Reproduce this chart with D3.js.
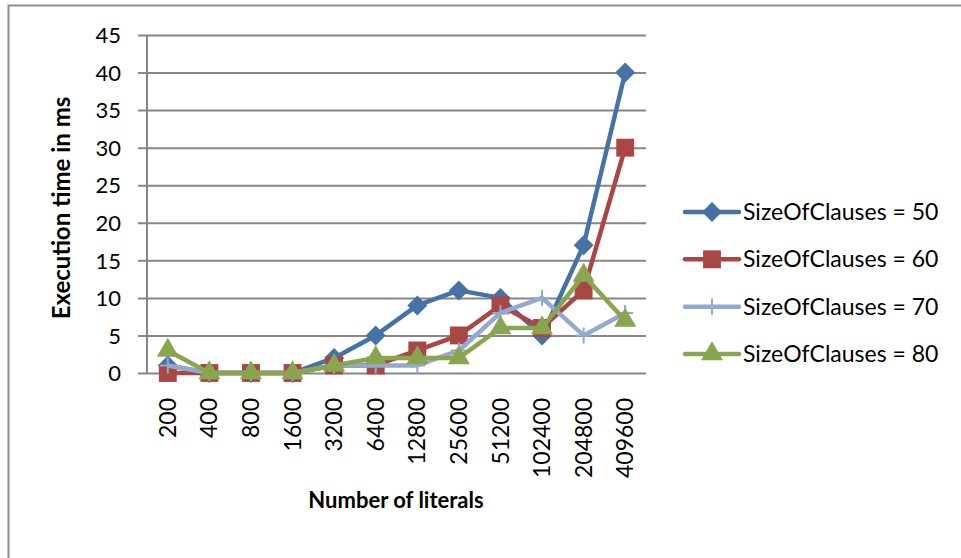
<!DOCTYPE html>
<html>
<head>
  <meta charset="utf-8">
  <script src="https://cdn.jsdelivr.net/npm/d3@7"></script>
  <style>
    body { margin: 0; background: #fff; }
    text { font-family: Lato, "Open Sans", sans-serif; fill: #000; }
  </style>
</head>
<body>
  <script>
    // categories on the x axis
    var literals = ["200", "400", "800", "1600", "3200", "6400", "12800", "25600", "51200", "102400", "204800", "409600"];
    var yTicks = [0, 5, 10, 15, 20, 25, 30, 35, 40, 45];

    // execution time (ms) per series
    var size50 = [1, 0, 0, 0, 2, 5, 9, 11, 10, 5, 17, 40];
    var size60 = [0, 0, 0, 0, 1, 1, 3, 5, 9, 6, 11, 30];
    var size70 = [1, 0, 0, 0, 1, 1, 1, 3, 8, 10, 5, 8];
    var size80 = [3, 0, 0, 0, 1, 2, 2, 2, 6, 6, 13, 7];

    var seriesNames = ["SizeOfClauses = 50", "SizeOfClauses = 60", "SizeOfClauses = 70", "SizeOfClauses = 80"];

    var series = [
      { name: seriesNames[0], values: size50, color: "#4572A7", marker: "diamond" },
      { name: seriesNames[1], values: size60, color: "#AA4643", marker: "square" },
      { name: seriesNames[2], values: size70, color: "#93A9D0", marker: "cross" },
      { name: seriesNames[3], values: size80, color: "#89A54E", marker: "triangle" }
    ];

    var width = 961, height = 558;
    var plotLeft = 147, plotRight = 646, plotTop = 35, plotBottom = 373;

    var svg = d3.select("body").append("svg")
      .attr("width", width)
      .attr("height", height);

    svg.append("rect")
      .attr("width", width).attr("height", height)
      .attr("fill", "#fff");

    // outer chart border (runs off the right and bottom)
    svg.append("rect")
      .attr("x", 8.5).attr("y", 5.5)
      .attr("width", 980).attr("height", 580)
      .attr("fill", "none")
      .attr("stroke", "#8e8e8e")
      .attr("stroke-width", 2);

    var x = d3.scaleBand().domain(literals).range([plotLeft, plotRight]);
    var y = d3.scaleLinear().domain([0, 45]).range([plotBottom, plotTop]);

    // gridlines + left ticks
    var yAxis = d3.axisLeft(y).tickValues(yTicks)
      .tickSize(-(plotRight - plotLeft)).tickPadding(0).tickFormat("");
    var gy = svg.append("g").attr("transform", "translate(" + plotLeft + ",0)").call(yAxis);
    gy.select(".domain").remove();
    gy.selectAll(".tick line")
      .attr("x1", -9)
      .attr("stroke", "#868686").attr("stroke-width", 2);

    gy.selectAll(".tick").append("text")
      .attr("x", -26).attr("dy", "0.35em")
      .attr("text-anchor", "end")
      .style("font-size", "22px")
      .text(function(d){ return d; });

    // y axis line
    svg.append("line")
      .attr("x1", plotLeft).attr("x2", plotLeft)
      .attr("y1", plotTop).attr("y2", plotBottom)
      .attr("stroke", "#868686").attr("stroke-width", 2);

    // x labels, rotated
    var xAxis = d3.axisBottom(x).tickSize(0).tickFormat("");
    var gx = svg.append("g").attr("transform", "translate(0," + plotBottom + ")").call(xAxis);
    gx.select(".domain").remove();
    gx.selectAll(".tick").append("text")
      .attr("transform", "translate(0,25) rotate(-90)")
      .attr("dy", "0.35em")
      .attr("text-anchor", "end")
      .style("font-size", "23px")
      .text(function(d){ return d; });

    // axis titles
    svg.append("text")
      .attr("transform", "translate(70,208) rotate(-90)")
      .attr("text-anchor", "middle")
      .style("font-size", "24px").style("font-weight", "bold")
      .text("Execution time in ms");

    svg.append("text")
      .attr("x", 396).attr("y", 508)
      .attr("text-anchor", "middle")
      .style("font-size", "22px").style("font-weight", "bold")
      .text("Number of literals");

    function drawMarker(g, type, color) {
      if (type == "diamond") {
        g.append("path")
          .attr("d", d3.symbol().type(d3.symbolSquare).size(200)())
          .attr("transform", "rotate(45)")
          .attr("fill", color);
      } else if (type == "square") {
        g.append("path")
          .attr("d", d3.symbol().type(d3.symbolSquare).size(320)())
          .attr("fill", color);
      } else if (type == "triangle") {
        g.append("path")
          .attr("d", d3.symbol().type(d3.symbolTriangle).size(210)())
          .attr("fill", color);
      } else {
        g.append("path")
          .attr("d", "M-8,0H8M0,-8V8")
          .attr("stroke", color).attr("stroke-width", 2);
      }
    }

    var line = d3.line()
      .x(function(d, i){ return x(literals[i]) + x.bandwidth() / 2; })
      .y(function(d){ return y(d); });

    series.forEach(function(s){
      var g = svg.append("g");
      g.append("path")
        .attr("d", line(s.values))
        .attr("fill", "none")
        .attr("stroke", s.color)
        .attr("stroke-width", 4.5)
        .attr("stroke-linejoin", "round");
      s.values.forEach(function(v, i){
        var m = g.append("g")
          .attr("transform", "translate(" + (x(literals[i]) + x.bandwidth() / 2) + "," + y(v) + ")");
        drawMarker(m, s.marker, s.color);
      });
    });

    // legend
    var legend = svg.append("g");
    var legendY = d3.scalePoint().domain(seriesNames).range([212, 354]);
    series.forEach(function(s){
      var ly = legendY(s.name);
      legend.append("line")
        .attr("x1", 685).attr("x2", 739)
        .attr("y1", ly).attr("y2", ly)
        .attr("stroke", s.color).attr("stroke-width", 4.5)
        .attr("stroke-linecap", "round");
      var m = legend.append("g").attr("transform", "translate(712," + ly + ")");
      drawMarker(m, s.marker, s.color);
      legend.append("text")
        .attr("x", 743).attr("y", ly).attr("dy", "0.35em")
        .style("font-size", "23px")
        .text(s.name);
    });
  </script>
</body>
</html>
